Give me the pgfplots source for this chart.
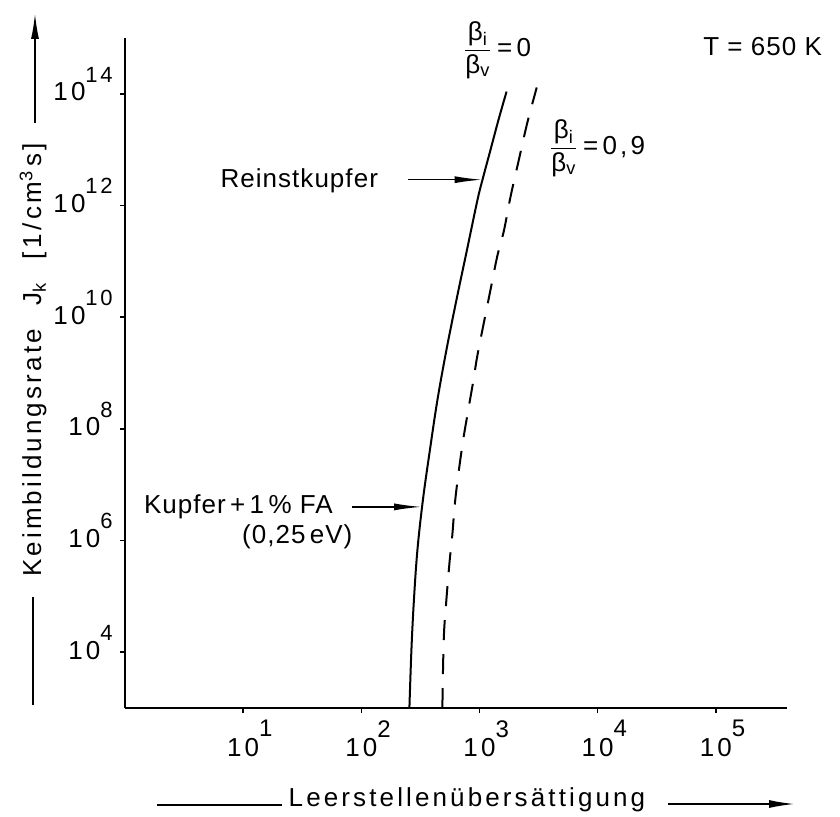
\documentclass[border=0pt]{standalone}
\usepackage{fontspec}
\setmainfont{Liberation Sans}[LetterSpace=12]
\newfontfamily\plainfont{Liberation Sans}[LetterSpace=4]
\usepackage{pgfplots}
\pgfplotsset{compat=1.18}
\usetikzlibrary{arrows.meta}
\newcommand{\ylab}[1]{10\raisebox{0.72em}{\fontsize{11}{11}\selectfont #1}}
\newcommand{\xlab}[1]{10\rlap{\raisebox{0.75em}{\fontsize{12}{12}\selectfont #1}}}
\newcommand{\bfrac}{$\displaystyle\frac{\mbox{β\textsubscript{i}}}{\mbox{β\textsubscript{v}}}$}
\begin{document}
\fontsize{13}{15}\selectfont
\begin{tikzpicture}
\path[use as bounding box] (-62.5pt,-54pt) rectangle (357.5pt,354pt);
\begin{axis}[
  name=ax, at={(0,0)}, anchor=south west,
  scale only axis, width=331pt, height=335pt,
  xmode=log, ymode=log,
  xmin=1, xmax=4e5, ymin=1e3, ymax=1e15,
  axis lines*=left, axis line style={-, line width=1.3pt},
  tick align=outside, major tick length=2.5pt,
  tick style={line width=0.8pt, black},
  xtick={10,100,1000,10000,100000},
  xticklabels={\xlab{1},\xlab{2},\xlab{3},\xlab{4},\xlab{5}},
  ytick={1e4,1e6,1e8,1e10,1e12,1e14},
  yticklabels={\ylab{4},\ylab{6},\ylab{8},\ylab{10},\ylab{12},\ylab{14}},
  minor tick num=0, xminorticks=false, yminorticks=false,
  xticklabel style={anchor=north, inner sep=0pt, yshift=-3.5pt},
  yticklabel style={anchor=base east, inner sep=0pt, xshift=-3.5pt, yshift=-3.5pt},
  clip=false,
]
\addplot[black, line width=1pt, smooth, tension=0.6] coordinates {
 (255.1,1e3) (265.3,1.095e4) (278.6,8.62e4) (298.3,6.79e5) (332.0,5.34e6)
 (380.6,4.20e7) (440.7,3.31e8) (525.3,2.61e9) (638.5,2.05e10) (783.8,1.61e11)
 (962,1.27e12) (1060,2.90e12) (1240,1.0e13) (1449,3.45e13) (1694,1.095e14)};
\addplot[black, line width=1pt, smooth, tension=0.6, dash pattern=on 10pt off 7pt] coordinates {
 (485,1e3) (498,1.66e4) (522,7.6e4) (557,4.0e5) (587,1.17e6) (627,6.0e6)
 (713,4.8e7) (796,1.95e8) (885,7.1e8) (957,2.0e9) (1086,7.8e9) (1239,3.1e10)
 (1413,1.23e11) (1607,3.5e11) (1832,1.45e12) (2153,6.6e12) (2535,3.0e13) (3050,1.3e14)};
\coordinate (tipA) at (axis cs:1060,2.9e12);
\coordinate (tipB) at (axis cs:326.5,4.0e6);
\end{axis}
% y axis label
\node[rotate=90] at (-46pt,174pt) {Keimbildungsrate\hspace{0.9em}J\textsubscript{k}\hspace{0.9em}[1\,/cm\textsuperscript{3}\,s]};
\draw[line width=0.9pt] (-46pt,1.5pt) -- (-46pt,55.5pt);
\draw[line width=0.9pt, -{Latex[length=13pt,width=4pt]}] (-45pt,292.5pt) -- (-45pt,347.5pt);
% x axis label
\node[anchor=base, inner sep=0pt] at (171pt,-49pt) {Leerstellenübersättigung};
\draw[line width=0.9pt] (16pt,-48.5pt) -- (78.5pt,-48.5pt);
\draw[line width=0.9pt, -{Latex[length=13pt,width=4pt]}] (271.5pt,-48pt) -- (335pt,-48pt);
% curve labels
\node at (186pt,329pt) {\bfrac\,=\,0};
\node at (236pt,280pt) {\bfrac\,=\,0,9};
\node[anchor=east, font=\plainfont] at (353pt,330.5pt) {T = 650 K};
\node[anchor=east, font=\plainfont] at (131pt,263.5pt) {Reinstkupfer};
\draw[line width=0.8pt, {Latex[length=14pt,width=3.5pt]}-] (tipA) -- ++(-37.5pt,0);
\node[anchor=west, font=\plainfont] at (5pt,100.5pt) {Kupfer\,+\,1\,\% FA};
\node[anchor=west, font=\plainfont] at (54pt,85.5pt) {(0,25\,eV)};
\draw[line width=0.8pt, {Latex[length=14pt,width=3.5pt]}-] (tipB) -- ++(-35pt,0);
\end{tikzpicture}
\end{document}
